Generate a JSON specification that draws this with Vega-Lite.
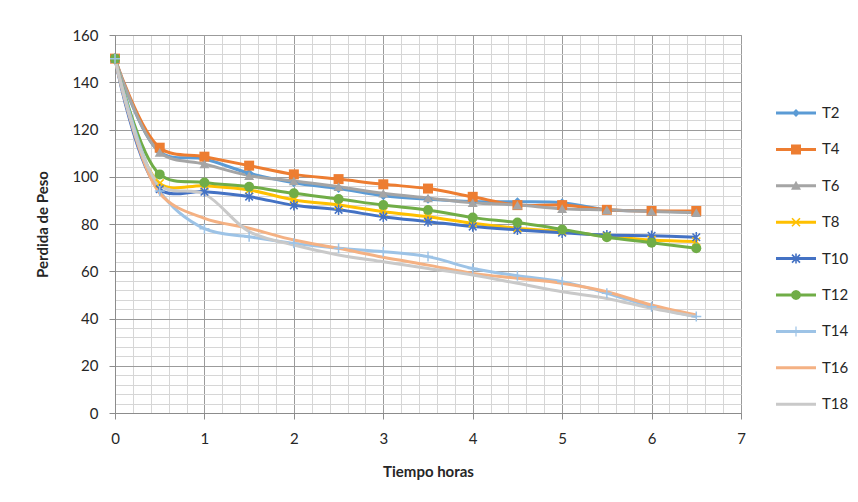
{
  "$schema": "https://vega.github.io/schema/vega-lite/v6.json",
  "autosize": {"type": "none"},
  "width": 626,
  "height": 378,
  "padding": {"left": 115, "top": 35, "right": 117, "bottom": 89},
  "background": "white",
  "config": {
    "font": "Lato",
    "view": {"stroke": "#a6a6a6", "strokeWidth": 1},
    "axis": {"labelFontSize": 15, "labelColor": "#262626", "titleFontSize": 15, "titleFontWeight": "bold", "titleColor": "#262626", "domainColor": "#8c8c8c", "labelFont": "Lato", "titleFont": "Lato"},
    "legend": {"labelFontSize": 15, "labelColor": "#262626", "labelFont": "Lato"}
  },
  "data": {
    "values": [
      {"t": 0, "serie": "T2", "v": 150}, {"t": 0.5, "serie": "T2", "v": 110.5}, {"t": 1, "serie": "T2", "v": 107.5}, {"t": 1.5, "serie": "T2", "v": 101.5}, {"t": 2, "serie": "T2", "v": 97.5}, {"t": 2.5, "serie": "T2", "v": 95}, {"t": 3, "serie": "T2", "v": 92}, {"t": 3.5, "serie": "T2", "v": 90.5}, {"t": 4, "serie": "T2", "v": 89.5}, {"t": 4.5, "serie": "T2", "v": 89.4}, {"t": 5, "serie": "T2", "v": 89}, {"t": 5.5, "serie": "T2", "v": 86}, {"t": 6, "serie": "T2", "v": 85.5}, {"t": 6.5, "serie": "T2", "v": 85},
      {"t": 0, "serie": "T4", "v": 150}, {"t": 0.5, "serie": "T4", "v": 112.3}, {"t": 1, "serie": "T4", "v": 108.5}, {"t": 1.5, "serie": "T4", "v": 104.7}, {"t": 2, "serie": "T4", "v": 101}, {"t": 2.5, "serie": "T4", "v": 99}, {"t": 3, "serie": "T4", "v": 96.8}, {"t": 3.5, "serie": "T4", "v": 95}, {"t": 4, "serie": "T4", "v": 91.5}, {"t": 4.5, "serie": "T4", "v": 88}, {"t": 5, "serie": "T4", "v": 88}, {"t": 5.5, "serie": "T4", "v": 86}, {"t": 6, "serie": "T4", "v": 85.5}, {"t": 6.5, "serie": "T4", "v": 85.5},
      {"t": 0, "serie": "T6", "v": 150}, {"t": 0.5, "serie": "T6", "v": 110.3}, {"t": 1, "serie": "T6", "v": 105.4}, {"t": 1.5, "serie": "T6", "v": 100.5}, {"t": 2, "serie": "T6", "v": 98.2}, {"t": 2.5, "serie": "T6", "v": 95.8}, {"t": 3, "serie": "T6", "v": 93}, {"t": 3.5, "serie": "T6", "v": 91}, {"t": 4, "serie": "T6", "v": 89}, {"t": 4.5, "serie": "T6", "v": 88}, {"t": 5, "serie": "T6", "v": 86.5}, {"t": 5.5, "serie": "T6", "v": 86}, {"t": 6, "serie": "T6", "v": 85.3}, {"t": 6.5, "serie": "T6", "v": 84.8},
      {"t": 0, "serie": "T8", "v": 150}, {"t": 0.5, "serie": "T8", "v": 97.2}, {"t": 1, "serie": "T8", "v": 96.2}, {"t": 1.5, "serie": "T8", "v": 94.4}, {"t": 2, "serie": "T8", "v": 90.2}, {"t": 2.5, "serie": "T8", "v": 88}, {"t": 3, "serie": "T8", "v": 85.2}, {"t": 3.5, "serie": "T8", "v": 83.1}, {"t": 4, "serie": "T8", "v": 80.3}, {"t": 4.5, "serie": "T8", "v": 78.2}, {"t": 5, "serie": "T8", "v": 76.8}, {"t": 5.5, "serie": "T8", "v": 74.9}, {"t": 6, "serie": "T8", "v": 73.2}, {"t": 6.5, "serie": "T8", "v": 72.6},
      {"t": 0, "serie": "T10", "v": 150}, {"t": 0.5, "serie": "T10", "v": 94.7}, {"t": 1, "serie": "T10", "v": 93.7}, {"t": 1.5, "serie": "T10", "v": 91.6}, {"t": 2, "serie": "T10", "v": 87.9}, {"t": 2.5, "serie": "T10", "v": 86}, {"t": 3, "serie": "T10", "v": 83.1}, {"t": 3.5, "serie": "T10", "v": 81}, {"t": 4, "serie": "T10", "v": 78.9}, {"t": 4.5, "serie": "T10", "v": 77.5}, {"t": 5, "serie": "T10", "v": 76.3}, {"t": 5.5, "serie": "T10", "v": 75.3}, {"t": 6, "serie": "T10", "v": 75}, {"t": 6.5, "serie": "T10", "v": 74.4},
      {"t": 0, "serie": "T12", "v": 150}, {"t": 0.5, "serie": "T12", "v": 101}, {"t": 1, "serie": "T12", "v": 97.6}, {"t": 1.5, "serie": "T12", "v": 95.8}, {"t": 2, "serie": "T12", "v": 93}, {"t": 2.5, "serie": "T12", "v": 90.6}, {"t": 3, "serie": "T12", "v": 88}, {"t": 3.5, "serie": "T12", "v": 85.9}, {"t": 4, "serie": "T12", "v": 82.7}, {"t": 4.5, "serie": "T12", "v": 80.6}, {"t": 5, "serie": "T12", "v": 77.7}, {"t": 5.5, "serie": "T12", "v": 74.4}, {"t": 6, "serie": "T12", "v": 72.1}, {"t": 6.5, "serie": "T12", "v": 69.7},
      {"t": 0, "serie": "T14", "v": 150}, {"t": 0.5, "serie": "T14", "v": 94}, {"t": 1, "serie": "T14", "v": 78}, {"t": 1.5, "serie": "T14", "v": 74.6}, {"t": 2, "serie": "T14", "v": 71.8}, {"t": 2.5, "serie": "T14", "v": 69.7}, {"t": 3, "serie": "T14", "v": 68.3}, {"t": 3.5, "serie": "T14", "v": 66.2}, {"t": 4, "serie": "T14", "v": 61.2}, {"t": 4.5, "serie": "T14", "v": 58.1}, {"t": 5, "serie": "T14", "v": 55.6}, {"t": 5.5, "serie": "T14", "v": 50.7}, {"t": 6, "serie": "T14", "v": 45}, {"t": 6.5, "serie": "T14", "v": 40.8},
      {"t": 0, "serie": "T16", "v": 150}, {"t": 0.5, "serie": "T16", "v": 93}, {"t": 1, "serie": "T16", "v": 82.4}, {"t": 1.5, "serie": "T16", "v": 78.2}, {"t": 2, "serie": "T16", "v": 73.2}, {"t": 2.5, "serie": "T16", "v": 69.7}, {"t": 3, "serie": "T16", "v": 65.9}, {"t": 3.5, "serie": "T16", "v": 62.6}, {"t": 4, "serie": "T16", "v": 59.1}, {"t": 4.5, "serie": "T16", "v": 57}, {"t": 5, "serie": "T16", "v": 54.9}, {"t": 5.5, "serie": "T16", "v": 51.3}, {"t": 6, "serie": "T16", "v": 45.7}, {"t": 6.5, "serie": "T16", "v": 41.5},
      {"t": 0, "serie": "T18", "v": 150}, {"t": 0.5, "serie": "T18", "v": 96.5}, {"t": 1, "serie": "T18", "v": 92.7}, {"t": 1.5, "serie": "T18", "v": 76.8}, {"t": 2, "serie": "T18", "v": 71.1}, {"t": 2.5, "serie": "T18", "v": 66.9}, {"t": 3, "serie": "T18", "v": 64}, {"t": 3.5, "serie": "T18", "v": 61.2}, {"t": 4, "serie": "T18", "v": 58.4}, {"t": 4.5, "serie": "T18", "v": 54.9}, {"t": 5, "serie": "T18", "v": 51.3}, {"t": 5.5, "serie": "T18", "v": 48.5}, {"t": 6, "serie": "T18", "v": 44.3}, {"t": 6.5, "serie": "T18", "v": 40.8}
    ]
  },
  "encoding": {
    "x": {
      "field": "t", "type": "quantitative",
      "scale": {"domain": [0, 7], "nice": false},
      "axis": {
        "title": "Tiempo horas",
        "values": [0, 0.2, 0.4, 0.6, 0.8, 1, 1.2, 1.4, 1.6, 1.8, 2, 2.2, 2.4, 2.6, 2.8, 3, 3.2, 3.4, 3.6, 3.8, 4, 4.2, 4.4, 4.6, 4.8, 5, 5.2, 5.4, 5.6, 5.8, 6, 6.2, 6.4, 6.6, 6.8, 7],
        "labelExpr": "datum.value % 1 === 0 ? format(datum.value, 'd') : ''",
        "grid": true,
        "gridColor": {"condition": {"test": "datum.value % 1 === 0", "value": "#9b9b9b"}, "value": "#d6d6d6"},
        "tickColor": {"condition": {"test": "datum.value % 1 === 0", "value": "#8c8c8c"}, "value": "transparent"},
        "tickSize": 6,
        "labelPadding": 12,
        "labelFlush": false,
        "labelOverlap": false,
        "titlePadding": 18
      }
    },
    "y": {
      "field": "v", "type": "quantitative",
      "scale": {"domain": [0, 160], "nice": false},
      "axis": {
        "title": "Perdida de Peso",
        "values": [0, 4, 8, 12, 16, 20, 24, 28, 32, 36, 40, 44, 48, 52, 56, 60, 64, 68, 72, 76, 80, 84, 88, 92, 96, 100, 104, 108, 112, 116, 120, 124, 128, 132, 136, 140, 144, 148, 152, 156, 160],
        "labelExpr": "datum.value % 20 === 0 ? datum.label : ''",
        "grid": true,
        "gridColor": {"condition": {"test": "datum.value % 20 === 0", "value": "#9b9b9b"}, "value": "#d6d6d6"},
        "tickColor": {"condition": {"test": "datum.value % 20 === 0", "value": "#8c8c8c"}, "value": "transparent"},
        "tickSize": 6,
        "labelPadding": 11,
        "labelFlush": false,
        "labelOverlap": false,
        "titlePadding": 21
      }
    }
  },
  "layer": [
    {
      "mark": {"type": "point", "filled": true, "size": 1600, "opacity": 0},
      "encoding": {
        "color": {
          "field": "serie", "type": "nominal",
          "scale": {
            "domain": ["T2", "T4", "T6", "T8", "T10", "T12", "T14", "T16", "T18"],
            "range": ["#5b9bd5", "#ed7d31", "#a5a5a5", "#ffc000", "#4472c4", "#70ad47", "#9dc3e6", "#f4b183", "#c9c9c9"]
          },
          "legend": {"title": null, "orient": "none", "legendX": 661, "legendY": 58, "symbolSize": 1600, "rowPadding": 8.4, "labelOffset": 6, "symbolStrokeWidth": 0, "symbolOpacity": 1}
        },
        "shape": {
          "field": "serie", "type": "nominal",
          "scale": {
            "domain": ["T2", "T4", "T6", "T8", "T10", "T12", "T14", "T16", "T18"],
            "range": [
              "M-1,-0.075H1V0.075H-1Z M-0.2,0L0,-0.2L0.2,0L0,0.2Z",
              "M-1,-0.075H1V0.075H-1Z M-0.25,-0.25H0.25V0.25H-0.25Z",
              "M-1,-0.075H1V0.075H-1Z M0,-0.25L0.25,0.2L-0.25,0.2Z",
              "M-1,-0.075H1V0.075H-1Z M-0.172,-0.228L0.228,0.172L0.172,0.228L-0.228,-0.172Z M-0.228,0.172L0.172,-0.228L0.228,-0.172L-0.172,0.228Z",
              "M-1,-0.075H1V0.075H-1Z M-0.172,-0.228L0.228,0.172L0.172,0.228L-0.228,-0.172Z M-0.228,0.172L0.172,-0.228L0.228,-0.172L-0.172,0.228Z M-0.04,-0.25H0.04V0.25H-0.04Z",
              "M-1,-0.075H1V0.075H-1Z M0.25,0L0.2165,0.125L0.125,0.2165L0,0.25L-0.125,0.2165L-0.2165,0.125L-0.25,0L-0.2165,-0.125L-0.125,-0.2165L0,-0.25L0.125,-0.2165L0.2165,-0.125Z",
              "M-1,-0.075H1V0.075H-1Z M-0.03,-0.25H0.03V0.25H-0.03Z",
              "M-1,-0.075H1V0.075H-1Z",
              "M-1,-0.075H1V0.075H-1Z"
            ]
          },
          "legend": {"title": null, "orient": "none", "legendX": 661, "legendY": 58, "symbolSize": 1600, "rowPadding": 8.4, "labelOffset": 6, "symbolStrokeWidth": 0, "symbolOpacity": 1}
        }
      }
    },
    {
      "mark": {"type": "line", "interpolate": "catmull-rom", "strokeWidth": 3},
      "encoding": {
        "stroke": {
          "field": "serie", "type": "nominal",
          "scale": {
            "domain": ["T2", "T4", "T6", "T8", "T10", "T12", "T14", "T16", "T18"],
            "range": ["#5b9bd5", "#ed7d31", "#a5a5a5", "#ffc000", "#4472c4", "#70ad47", "#9dc3e6", "#f4b183", "#c9c9c9"]
          },
          "legend": null
        }
      }
    },
    {
      "transform": [{"filter": {"field": "serie", "equal": "T2"}}],
      "mark": {"type": "point", "shape": "diamond", "filled": true, "size": 81, "opacity": 1},
      "encoding": {"fill": {"field": "serie", "type": "nominal", "scale": {"domain": ["T2", "T4", "T6", "T8", "T10", "T12", "T14", "T16", "T18"], "range": ["#5b9bd5", "#ed7d31", "#a5a5a5", "#ffc000", "#4472c4", "#70ad47", "#9dc3e6", "#f4b183", "#c9c9c9"]}, "legend": null}}
    },
    {
      "transform": [{"filter": {"field": "serie", "equal": "T4"}}],
      "mark": {"type": "point", "shape": "square", "filled": true, "size": 100, "opacity": 1},
      "encoding": {"fill": {"field": "serie", "type": "nominal", "legend": null}}
    },
    {
      "transform": [{"filter": {"field": "serie", "equal": "T6"}}],
      "mark": {"type": "point", "shape": "triangle-up", "filled": true, "size": 100, "opacity": 1},
      "encoding": {"fill": {"field": "serie", "type": "nominal", "legend": null}}
    },
    {
      "transform": [{"filter": {"field": "serie", "equal": "T8"}}],
      "mark": {"type": "point", "shape": "M-1,-1L1,1M-1,1L1,-1", "filled": false, "size": 64, "strokeWidth": 1.5, "opacity": 1},
      "encoding": {"stroke": {"field": "serie", "type": "nominal", "legend": null}}
    },
    {
      "transform": [{"filter": {"field": "serie", "equal": "T10"}}],
      "mark": {"type": "point", "shape": "M-0.8,-0.8L0.8,0.8M-0.8,0.8L0.8,-0.8M0,-1.1L0,1.1", "filled": false, "size": 90, "strokeWidth": 1.5, "opacity": 1},
      "encoding": {"stroke": {"field": "serie", "type": "nominal", "legend": null}}
    },
    {
      "transform": [{"filter": {"field": "serie", "equal": "T12"}}],
      "mark": {"type": "point", "shape": "circle", "filled": true, "size": 100, "opacity": 1},
      "encoding": {"fill": {"field": "serie", "type": "nominal", "legend": null}}
    },
    {
      "transform": [{"filter": {"field": "serie", "equal": "T14"}}],
      "mark": {"type": "point", "shape": "M-1,0L1,0M0,-1L0,1", "filled": false, "size": 100, "strokeWidth": 1.5, "opacity": 1},
      "encoding": {"stroke": {"field": "serie", "type": "nominal", "legend": null}}
    }
  ]
}
